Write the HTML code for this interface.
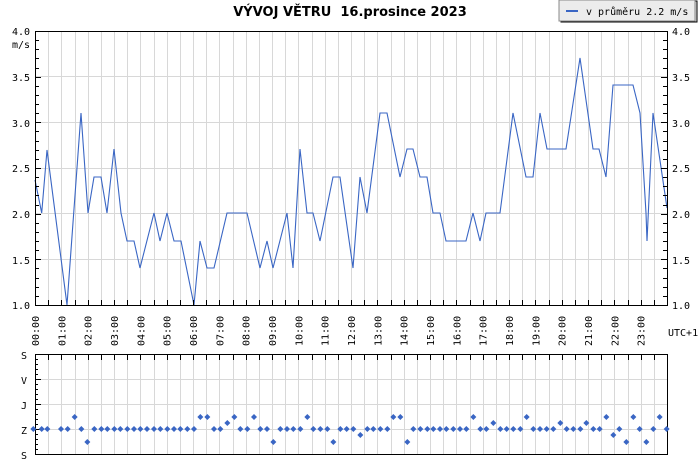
<!DOCTYPE html>
<html><head><meta charset="utf-8"><style>
body{margin:0;background:#fff;width:700px;height:460px;overflow:hidden}
text{font-family:"DejaVu Sans Mono","Liberation Mono",monospace;font-size:10px;fill:#000}
</style></head><body>
<svg width="700" height="460" xmlns="http://www.w3.org/2000/svg">
<text x="350" y="16" text-anchor="middle" style="font-family:'DejaVu Sans','Liberation Sans',sans-serif;font-weight:bold;font-size:13px">VÝVOJ VĚTRU&#160; 16.prosince 2023</text>
<rect x="561" y="1" width="136" height="21" fill="#ddd" stroke="#000"/>
<rect x="559" y="0" width="136" height="21" fill="#ececec" stroke="#888"/>
<line x1="566" y1="11" x2="578" y2="11" stroke="#3a66c4" stroke-width="2"/>
<text x="586" y="15">v průměru 2.2 m/s</text>
<g stroke="#d8d8d8">
<line x1="35" y1="76.5" x2="667" y2="76.5"/><line x1="35" y1="122.5" x2="667" y2="122.5"/><line x1="35" y1="168.5" x2="667" y2="168.5"/><line x1="35" y1="213.5" x2="667" y2="213.5"/><line x1="35" y1="259.5" x2="667" y2="259.5"/>
<line x1="35" y1="379.5" x2="667" y2="379.5"/><line x1="35" y1="404.5" x2="667" y2="404.5"/><line x1="35" y1="429.5" x2="667" y2="429.5"/>
</g>
<g id="vlines"></g>
<polyline fill="none" stroke="#3a66c4" stroke-width="1.1" points="35,180 41.7,213 47,150 67,305 81,113 88,213 94,177 101,177 107,213 114,149 121,213 127,241 134,241 140,268 154,213 160,241 167,213 174,241 181,241 194,305 200,241 207,268 214,268 227,213 247,213 260,268 267,241 273,268 287,213 293,268 300,149 307,213 313,213 320,241 333,177 340,177 353,268 360,177 367,213 380,113 387,113 400,177 407,149 413,149 420,177 427,177 433,213 440,213 446,241 466,241 473,213 480,241 486,213 500,213 513,113 526,177 533,177 540,113 547,149 566,149 580,58 593,149 599,149 606,177 613,85 633,85 640,113 646,213 647,241 653,113 667,208"/>
<rect x="35.5" y="31.5" width="632" height="274" fill="none" stroke="#000"/>
<rect x="35.5" y="354.5" width="632" height="100" fill="none" stroke="#000"/>
<g id="ticks" stroke="#000"></g>
<g text-anchor="end">
<text x="30" y="35">4.0</text><text x="30" y="48">m/s</text><text x="30" y="81">3.5</text><text x="30" y="127">3.0</text><text x="30" y="172">2.5</text><text x="30" y="218">2.0</text><text x="30" y="264">1.5</text><text x="30" y="309">1.0</text>
<text x="27" y="359">S</text><text x="27" y="384">V</text><text x="27" y="409">J</text><text x="27" y="434">Z</text><text x="27" y="459">S</text>
</g>
<g>
<text x="672" y="35">4.0</text><text x="672" y="81">3.5</text><text x="672" y="127">3.0</text><text x="672" y="172">2.5</text><text x="672" y="218">2.0</text><text x="672" y="264">1.5</text><text x="672" y="309">1.0</text>
<text x="668" y="336">UTC+1</text>
</g>
<g id="xl"></g>
<g id="pts" fill="#3a66c4"></g>
<script>
var ns="http://www.w3.org/2000/svg";
function el(t,a,p){var e=document.createElementNS(ns,t);for(var k in a)e.setAttribute(k,a[k]);document.getElementById(p).appendChild(e);return e;}
var sp=632/48;
for(var i=1;i<48;i++){var x=Math.round(35+i*sp)+0.5;el("line",{x1:x,y1:31,x2:x,y2:305,stroke:"#d8d8d8"},"vlines");el("line",{x1:x,y1:354,x2:x,y2:454,stroke:"#d8d8d8"},"vlines");
el("line",{x1:x,y1:305,x2:x,y2:300},"ticks");el("line",{x1:x,y1:355,x2:x,y2:360},"ticks");}
for(var v=10;v<=40;v++){var y=Math.round(305-(v-10)*274/30)+0.5;var l=v%5==0?6:4;el("line",{x1:35,y1:y,x2:35+l,y2:y},"ticks");el("line",{x1:667,y1:y,x2:667-l,y2:y},"ticks");}
for(var j=0;j<=20;j++){var y=354+j*5+0.5;var l=j%5==0?6:3;el("line",{x1:35,y1:y,x2:35+l,y2:y},"ticks");}
for(var h=0;h<24;h++){var x=35+h*2*sp+4;var t=el("text",{x:0,y:0,transform:"translate("+x+",346) rotate(-90)"},"xl");t.textContent=(h<10?"0":"")+h+":00";}
var P=[[100,429],[125,429],[142,429],[183,429],[203,429],[224,417],[244,429],[262,442],[283,429],[304,429],[322,429],[343,429],[361,429],[382,429],[402,429],[421,429],[441,429],[462,429],[481,429],[502,429],[522,429],[541,429],[562,429],[582,429],[601,417],[622,417],[642,429],[661,429],[682,423],[703,417],[721,429],[742,429],[762,417],[781,429],[801,429],[820,442],[841,429],[861,429],[880,429],[901,429],[922,417],[940,429],[961,429],[982,429],[1000,442],[1021,429],[1040,429]];
var Q=[[10,429],[31,435],[52,429],[70,429],[91,429],[112,429],[130,417],[151,417],[172,442],[190,429],[211,429],[232,429],[250,429],[270,429],[289,429],[310,429],[330,429],[349,429],[370,417],[391,429],[409,429],[430,423],[451,429],[470,429],[490,429],[511,429],[530,417],[550,429],[570,429],[590,429],[610,429],[631,423],[650,429],[670,429],[691,429],[709,423],[730,429],[749,429],[769,417],[790,435],[808,429],[829,442],[850,417],[869,429],[889,442],[910,429],[929,417],[950,429]];
function dot(x,y){el("path",{d:"M"+x+","+(y-3)+"L"+(x+3)+","+y+"L"+x+","+(y+3)+"L"+(x-3)+","+y+"Z"},"pts");}
P.forEach(function(p){dot(p[0]/3,p[1]);});Q.forEach(function(p){dot(350+p[0]/3,p[1]);});
</script>
</svg>
</body></html>
